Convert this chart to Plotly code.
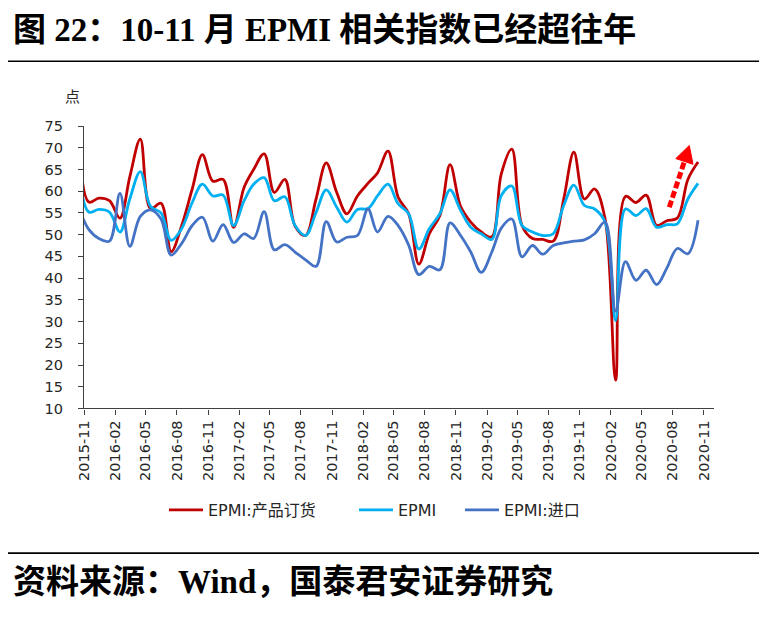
import plotly.graph_objects as go

# ---------------- data ----------------
months = [
    "2015-10", "2015-11", "2015-12", "2016-01", "2016-02", "2016-03", "2016-04", "2016-05",
    "2016-06", "2016-07", "2016-08", "2016-09", "2016-10", "2016-11", "2016-12", "2017-01",
    "2017-02", "2017-03", "2017-04", "2017-05", "2017-06", "2017-07", "2017-08", "2017-09",
    "2017-10", "2017-11", "2017-12", "2018-01", "2018-02", "2018-03", "2018-04", "2018-05",
    "2018-06", "2018-07", "2018-08", "2018-09", "2018-10", "2018-11", "2018-12", "2019-01",
    "2019-02", "2019-03", "2019-04", "2019-05", "2019-06", "2019-07", "2019-08", "2019-09",
    "2019-10", "2019-11", "2019-12", "2020-01", "2020-02", "2020-03", "2020-04", "2020-05",
    "2020-06", "2020-07", "2020-08", "2020-09", "2020-10",
]

epmi_orders = [
    77.0, 57.5, 58.4, 57.8, 53.8, 63.3, 72.0, 56.0, 57.2, 46.1,
    52.1, 60.5, 68.4, 62.3, 62.7, 51.7, 60.9, 65.0, 68.6, 59.7,
    62.7, 52.0, 49.8, 58.2, 66.5, 59.7, 54.8, 58.9, 61.8, 64.2,
    69.2, 58.6, 54.8, 43.2, 50.2, 54.4, 66.1, 56.5, 52.9, 50.6,
    49.5, 64.0, 69.7, 52.1, 49.1, 48.9, 48.5, 58.2, 69.0, 58.2,
    60.5, 53.6, 16.5, 58.8, 57.4, 59.1, 52.1, 53.2, 53.8, 62.7,
    66.7,
]

epmi = [
    65.5, 55.2, 55.8, 55.2, 50.6, 58.2, 64.5, 56.5, 55.0, 48.7,
    51.4, 57.4, 61.6, 58.9, 59.1, 52.1, 57.8, 61.6, 63.1, 57.8,
    58.7, 52.1, 49.8, 55.1, 60.3, 56.3, 52.9, 55.8, 56.0, 58.9,
    61.6, 57.1, 54.8, 46.7, 51.4, 54.8, 60.3, 55.6, 51.7, 50.2,
    48.9, 59.0, 61.2, 52.1, 50.6, 49.8, 50.2, 56.7, 61.4, 56.7,
    55.9, 52.9, 30.2, 55.9, 54.4, 56.0, 51.7, 52.3, 52.5, 58.2,
    61.8,
]

epmi_import = [
    56.5, 51.2, 49.1, 48.5, 59.5, 47.3, 54.2, 55.7, 53.6, 45.3,
    48.0, 52.1, 54.0, 48.5, 52.3, 48.2, 50.2, 49.1, 55.3, 46.5,
    47.7, 46.0, 44.2, 42.7, 53.0, 48.3, 49.4, 49.8, 55.9, 50.6,
    54.2, 52.1, 47.6, 40.8, 42.7, 41.9, 52.7, 49.8, 46.0, 41.3,
    46.0, 51.5, 53.6, 44.9, 47.5, 45.5, 47.5, 48.1, 48.5, 48.8,
    50.2, 52.9, 32.4, 43.8, 39.5, 41.8, 38.5, 42.3, 46.8, 45.6,
    53.3,
]

tick_labels = [
    "2015-11", "2016-02", "2016-05", "2016-08", "2016-11", "2017-02", "2017-05",
    "2017-08", "2017-11", "2018-02", "2018-05", "2018-08", "2018-11", "2019-02",
    "2019-05", "2019-08", "2019-11", "2020-02", "2020-05", "2020-08", "2020-11",
]

series_names = ["EPMI:产品订货", "EPMI", "EPMI:进口"]
series_colors = ["#C00000", "#00B0F0", "#4472C4"]

# ---------------- layout helpers (page pixel -> paper) ----------------
OFF = 8                      # default page body margin
W, H = 767 - OFF, 619 - OFF  # figure size
L, R, T, B = 76, 53, 118, 207
PW, PH = W - L - R, H - T - B


def px(x_page):
    return (x_page - OFF - L) / PW


def py(y_page):
    return (H - B - (y_page - OFF)) / PH


def cx(x_page):
    return (x_page - OFF) / W


def cy(y_page):
    return 1 - (y_page - OFF) / H


x_dates = [m + "-15" for m in months]
tick_vals = [t + "-01" for t in tick_labels]

LATIN_CJK = "DejaVu Sans, Noto Sans CJK SC, sans-serif"
SERIF_CJK = "Liberation Serif, Noto Sans CJK SC, serif"
AXIS_COLOR = "#404040"
TXT = "#262626"

legend_keys = ["legend", "legend2", "legend3"]
legend_x = [164, 354, 460]   # page x of each legend entry

fig = go.Figure()
for name, vals, col, lk in zip(series_names, [epmi_orders, epmi, epmi_import],
                               series_colors, legend_keys):
    fig.add_trace(go.Scatter(
        x=x_dates, y=vals, name=name, mode="lines", legend=lk,
        line=dict(color=col, width=2.8, shape="spline", smoothing=1.0),
    ))

# dashed red arrow (annotation graphic)
shaft = [(669.3, 208.3), (684.4, 161.9)]
head = [(689.3, 145.7), (693.0, 164.8), (675.8, 159.0)]
shapes = [
    dict(type="line", xref="paper", yref="paper",
         x0=px(shaft[0][0]), y0=py(shaft[0][1]), x1=px(shaft[1][0]), y1=py(shaft[1][1]),
         line=dict(color="#FF0000", width=5, dash="7px,3px")),
    dict(type="path", xref="paper", yref="paper",
         path="M {} {} L {} {} L {} {} Z".format(
             px(head[0][0]), py(head[0][1]), px(head[1][0]), py(head[1][1]),
             px(head[2][0]), py(head[2][1])),
         fillcolor="#FF0000", line=dict(color="#FF0000", width=1)),
    # horizontal rules
    dict(type="line", xref="paper", yref="paper", x0=px(0), x1=px(767), y0=py(60.5), y1=py(60.5),
         line=dict(color="#000000", width=1.6)),
    dict(type="line", xref="paper", yref="paper", x0=px(0), x1=px(767), y0=py(558.5), y1=py(558.5),
         line=dict(color="#000000", width=1.6)),
]

annotations = [
    dict(text="图 22：10-11 月 EPMI 相关指数已经超往年", xref="paper", yref="paper",
         x=px(11), y=py(29), xanchor="left", yanchor="middle", showarrow=False,
         font=dict(family=SERIF_CJK, size=33, color="#000000", weight="bold")),
    dict(text="点", xref="paper", yref="paper", x=px(72), y=py(97),
         xanchor="center", yanchor="middle", showarrow=False,
         font=dict(family=LATIN_CJK, size=15, color=TXT)),
    dict(text="资料来源：Wind，国泰君安证券研究", xref="paper", yref="paper",
         x=px(11), y=py(588), xanchor="left", yanchor="middle", showarrow=False,
         font=dict(family=SERIF_CJK, size=33, color="#000000", weight="bold")),
]

legend_common = dict(orientation="h", xref="container", yref="container",
                     yanchor="middle", xanchor="left", itemwidth=34,
                     font=dict(family=LATIN_CJK, size=16, color=TXT),
                     bgcolor="rgba(0,0,0,0)")

layout_legends = {}
for lk, lx in zip(legend_keys, legend_x):
    layout_legends[lk] = dict(legend_common, x=cx(lx), y=cy(510))

fig.update_layout(
    width=W, height=H,
    margin=dict(l=L, r=R, t=T, b=B, pad=0),
    paper_bgcolor="#FFFFFF", plot_bgcolor="#FFFFFF",
    showlegend=True,
    shapes=shapes,
    annotations=annotations,
    xaxis=dict(type="date", range=["2015-11-01", "2020-12-01"],
               tickvals=tick_vals, ticktext=tick_labels, tickangle=-90,
               ticks="outside", ticklen=5, tickwidth=1.3, tickcolor=AXIS_COLOR,
               showline=True, linecolor=AXIS_COLOR, linewidth=1.3,
               showgrid=False, zeroline=False,
               tickfont=dict(family=LATIN_CJK, size=14.5, color=TXT)),
    yaxis=dict(range=[10, 75], dtick=5, tick0=10,
               ticks="outside", ticklen=5, tickwidth=1.3, tickcolor=AXIS_COLOR,
               showline=True, linecolor=AXIS_COLOR, linewidth=1.3,
               showgrid=False, zeroline=False, ticklabelstandoff=12,
               tickfont=dict(family=LATIN_CJK, size=14.5, color=TXT)),
    **layout_legends,
)

fig.write_html("out.html")
